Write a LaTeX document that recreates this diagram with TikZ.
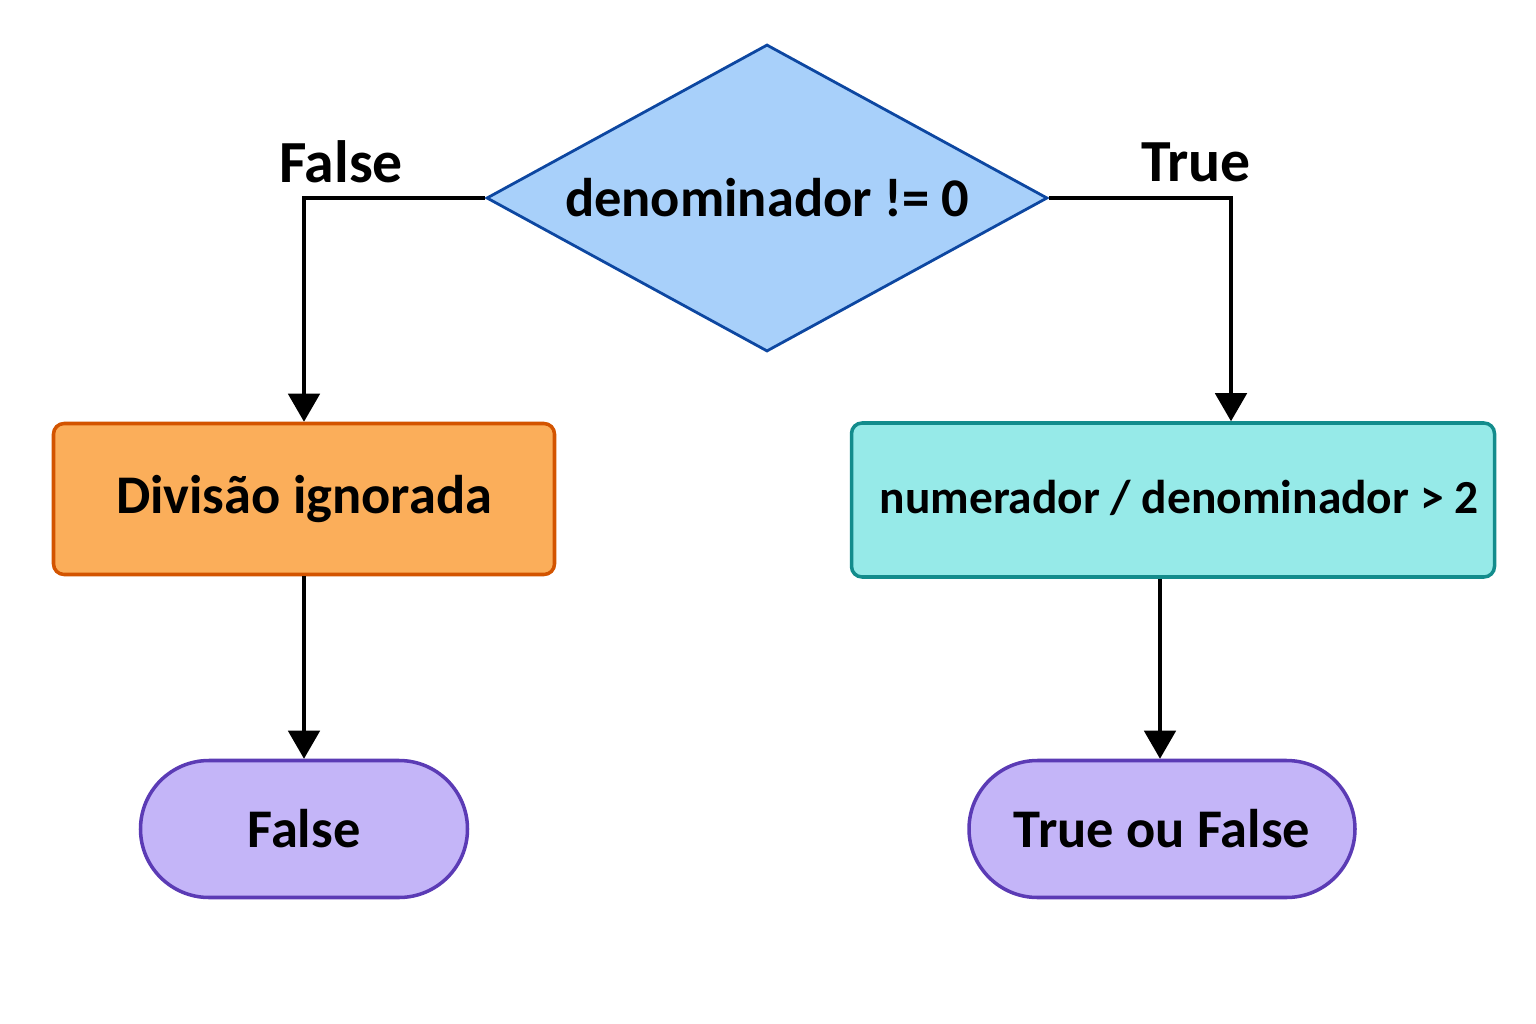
\documentclass[tikz,border=0pt]{standalone}
\usepackage{fontspec}
\setmainfont{Carlito}
\usetikzlibrary{arrows.meta, positioning, shapes.geometric, shapes.misc}
\definecolor{decfill}{HTML}{A8D0FA}
\definecolor{decline}{HTML}{0D47A1}
\definecolor{orfill}{HTML}{FBAE5A}
\definecolor{orline}{HTML}{D35400}
\definecolor{tefill}{HTML}{96EAE8}
\definecolor{teline}{HTML}{138C8C}
\definecolor{pufill}{HTML}{C4B5F8}
\definecolor{puline}{HTML}{5B3BB5}
\begin{document}
\begin{tikzpicture}[x=0.02cm,y=-0.02cm,>=Triangle,
  txt/.style={font=\bfseries\fontsize{31}{36}\selectfont},
  lbl/.style={font=\bfseries\fontsize{34}{40}\selectfont},
  decision/.style={diamond, draw=decline, fill=decfill, line width=1.6pt, inner sep=0pt},
  box/.style={rectangle, rounded corners=6pt, line width=2pt, inner sep=0pt, txt},
  term/.style={rounded rectangle, line width=2pt, inner sep=0pt, txt},
  arr/.style={line width=1.8pt, -{Triangle[length=16pt,width=18pt]}}]
\useasboundingbox (0,0) rectangle (1536,1024);

% Decision
\node[decision, minimum width=561*0.02cm, minimum height=307*0.02cm] (dec) at (767,198) {};
\node[txt] (dectxt) at (dec.center) {denominador != 0};

% Branch boxes
\node[box, draw=orline, fill=orfill, minimum width=501*0.02cm, minimum height=151*0.02cm] (skip) at (304,499) {Divisão ignorada};
\node[box, draw=teline, fill=tefill, minimum width=643*0.02cm, minimum height=154*0.02cm] (cmp) at (1173,500) {};
\node[txt, font=\bfseries\fontsize{27}{32}\selectfont] (cmptxt) at (1179,498) {numerador / denominador > 2};

% Results
\node[term, draw=puline, fill=pufill, minimum width=327*0.02cm, minimum height=137*0.02cm] (resf) at (304,829) {False};
\node[term, draw=puline, fill=pufill, minimum width=386*0.02cm, minimum height=137*0.02cm] (rest) at (1162,829) {True ou False};

% Labels
\node[lbl] (lf) at (341,162) {False};
\node[lbl] (lt) at (1196,162) {True};

% Connectors
\draw[arr] (dec.west) -| (skip.north);
\draw[arr] (dec.east) -| ([xshift=58*0.02cm]cmp.north);
\draw[arr] (skip.south) -- (resf.north);
\draw[arr] ([xshift=-13*0.02cm]cmp.south) -- ([xshift=-2*0.02cm]rest.north);
\end{tikzpicture}
\end{document}
